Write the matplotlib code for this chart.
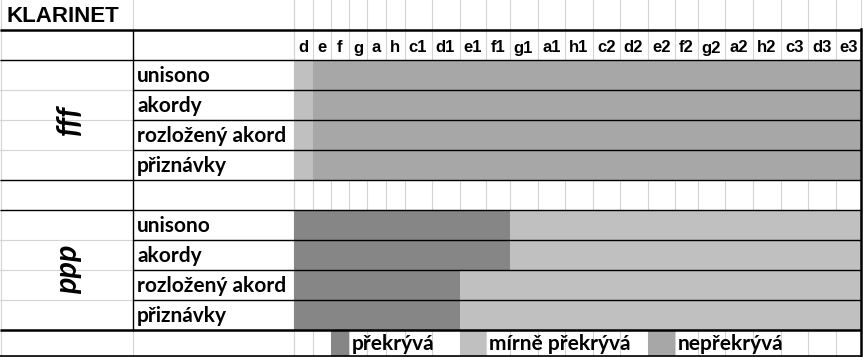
import matplotlib
matplotlib.use('Agg')
import matplotlib.pyplot as plt
from matplotlib.patches import Rectangle

# Data
title = "KLARINET"
notes = ['d', 'e', 'f', 'g', 'a', 'h', 'c1', 'd1', 'e1', 'f1', 'g1', 'a1',
         'h1', 'c2', 'd2', 'e2', 'f2', 'g2', 'a2', 'h2', 'c3', 'd3', 'e3']
techniques = ['unisono', 'akordy', 'rozložený akord', 'přiznávky']
dynamics = ['fff', 'ppp']
categories = ['překrývá', 'mírně překrývá', 'nepřekrývá']

# spans per row: (category, first note, last note)
fff_spans = [
    [('mírně překrývá', 'd', 'd'), ('nepřekrývá', 'e', 'e3')],
    [('mírně překrývá', 'd', 'd'), ('nepřekrývá', 'e', 'e3')],
    [('mírně překrývá', 'd', 'd'), ('nepřekrývá', 'e', 'e3')],
    [('mírně překrývá', 'd', 'd'), ('nepřekrývá', 'e', 'e3')],
]
ppp_spans = [
    [('překrývá', 'd', 'f1'), ('mírně překrývá', 'g1', 'e3')],
    [('překrývá', 'd', 'f1'), ('mírně překrývá', 'g1', 'e3')],
    [('překrývá', 'd', 'd1'), ('mírně překrývá', 'e1', 'e3')],
    [('překrývá', 'd', 'd1'), ('mírně překrývá', 'e1', 'e3')],
]
legend_cols = ['f', 'e1', 'e2']

# Layout (pixels)
W, H = 863, 357
col_edges = [293.5, 312.5, 330.5, 349, 367, 385.5, 404.5, 431.5, 459.5, 486,
             509.5, 537.5, 565, 593, 619.5, 647.5, 675, 698, 725, 753, 780.5,
             808, 835.5, 861]
x_label1, x_label2 = 133, 293.5
row_edges = [0, 30, 59.5, 89.5, 119.5, 149.5, 179.5, 209.5, 239.5, 269.5,
             299.5, 329.5, 356]
block_start = {'fff': 2, 'ppp': 7}   # index in row_edges of the block's top line
colors = {'překrývá': '#868686', 'mírně překrývá': '#c0c0c0', 'nepřekrývá': '#a7a7a7'}
grid_c = '#d4d4d4'
label_font = 'Lato'
head_font = 'Liberation Sans'
label_size = 15

fig = plt.figure(figsize=(W / 100, H / 100), dpi=100)
ax = fig.add_axes([0, 0, 1, 1])
ax.set_xlim(0, W)
ax.set_ylim(H, 0)
ax.axis('off')

# light gridlines
for x in [0.5, x_label1, x_label2] + col_edges:
    ax.plot([x, x], [0, H], color=grid_c, lw=0.8, zorder=1)
for y in row_edges[1:]:
    ax.plot([0, col_edges[-1]], [y, y], color=grid_c, lw=0.8, zorder=1)
# title row: no line between the two label columns
ax.add_patch(Rectangle((x_label1 + 1, 0.5), x_label2 - x_label1 - 2, 29,
                       facecolor='white', edgecolor='none', zorder=1.5))

def col_x(note):
    i = notes.index(note)
    return col_edges[i], col_edges[i + 1]

# fills
for d, spans in zip(dynamics, [fff_spans, ppp_spans]):
    r0 = block_start[d]
    for r, row in enumerate(spans):
        y0, y1 = row_edges[r0 + r], row_edges[r0 + r + 1]
        for cat, a, b in row:
            xa = col_x(a)[0]
            xb = col_x(b)[1]
            ax.add_patch(Rectangle((xa, y0), xb - xa, y1 - y0,
                                   facecolor=colors[cat], edgecolor='none', zorder=2))

# legend swatches
ly0, ly1 = row_edges[-2], row_edges[-1]
for cat, n in zip(categories, legend_cols):
    xa, xb = col_x(n)
    ax.add_patch(Rectangle((xa, ly0), xb - xa, ly1 - ly0,
                           facecolor=colors[cat], edgecolor='none', zorder=2))
    ax.text(xb + 3, (ly0 + ly1) / 2 + 1, cat, ha='left', va='center',
            fontsize=label_size, weight='bold', family=label_font, zorder=4)

# black borders
right = col_edges[-1]
def hline(y, x0, lw=1.0):
    ax.plot([x0, right], [y, y], color='black', lw=lw, zorder=3, solid_capstyle='butt')

hline(30, 0, 1.8)
hline(59.5, 0)
for y in row_edges[3:6]:
    hline(y, x_label1)
hline(179.5, 0)
hline(209.5, 0)
for y in row_edges[8:11]:
    hline(y, x_label1)
hline(329.5, 0, 1.8)
hline(356, 0, 1.2)
ax.plot([right - 0.5, right - 0.5], [29, H], color='black', lw=1.8, zorder=3)
ax.plot([x_label1, x_label1], [30, 329.5], color='black', lw=1.0, zorder=3)

# texts
ax.text(6, 16, title, ha='left', va='center', fontsize=16, weight='bold',
        family=head_font, zorder=4)
for n in notes:
    xa, xb = col_x(n)
    ax.text((xa + xb) / 2, 48, n, ha='center', va='center', fontsize=12,
            weight='bold', family=head_font, zorder=4)
for d in dynamics:
    r0 = block_start[d]
    for i, t in enumerate(techniques):
        y0, y1 = row_edges[r0 + i], row_edges[r0 + i + 1]
        ax.text(x_label1 + 4, (y0 + y1) / 2 + 1, t, ha='left', va='center',
                fontsize=label_size, weight='bold', family=label_font, zorder=4)
    ya, yb = row_edges[r0], row_edges[r0 + 4]
    ax.text(x_label1 / 2 + 2, (ya + yb) / 2, d, ha='center', va='center', rotation=90,
            fontsize=22, weight='bold', style='italic', family=label_font, zorder=4)

fig.savefig('out.png', dpi=100, facecolor='white')
